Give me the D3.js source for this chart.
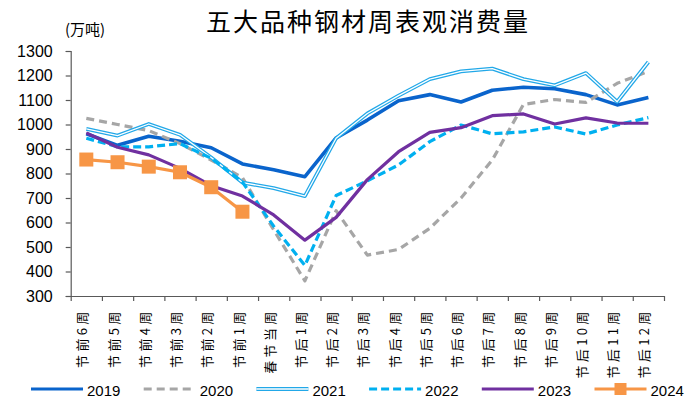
<!DOCTYPE html>
<html>
<head>
<meta charset="utf-8">
<script src="https://cdn.jsdelivr.net/npm/d3@7"></script>
<style>
  html, body { margin: 0; padding: 0; background: #fff; }
  svg { display: block; }
  .num { font-family: "Liberation Sans", Arial, sans-serif; }
  .cjk { font-family: "Noto Sans CJK SC", "Liberation Sans", sans-serif; }
</style>
</head>
<body>
<svg id="chart" width="699" height="398"></svg>
<script>
// Weeks around the Spring Festival
const categories = ["节前6周","节前5周","节前4周","节前3周","节前2周","节前1周","春节当周",
  "节后1周","节后2周","节后3周","节后4周","节后5周","节后6周","节后7周","节后8周",
  "节后9周","节后10周","节后11周","节后12周"];

// Weekly apparent consumption of the five major steel products (10k tonnes)
const v2019 = [962, 915, 952, 932, 905, 839, 815, 787, 945, 1018, 1097, 1122, 1092, 1140, 1152, 1146, 1122, 1080, 1110];
const v2020 = [1025, 1000, 975, 922, 855, 783, 570, 362, 648, 467, 490, 576, 700, 855, 1082, 1102, 1090, 1168, 1217];
const v2021 = [982, 955, 1002, 958, 865, 763, 740, 708, 944, 1045, 1118, 1185, 1217, 1228, 1185, 1160, 1210, 1093, 1255];
const v2022 = [944, 909, 909, 922, 862, 765, 585, 425, 710, 770, 835, 930, 998, 962, 970, 990, 961, 998, 1028];
const v2023 = [966, 907, 876, 821, 750, 708, 631, 528, 621, 775, 889, 968, 987, 1036, 1043, 1002, 1027, 1006, 1005];
const v2024 = [857, 846, 828, 805, 744, 644];

const yTicks = [300, 400, 500, 600, 700, 800, 900, 1000, 1100, 1200, 1300];
const seriesNames = ["2019", "2020", "2021", "2022", "2023", "2024"];

const series = [
  { name: seriesNames[0], values: v2019, color: "#0A64CC", width: 3.6, dash: null },
  { name: seriesNames[1], values: v2020, color: "#A6A6A6", width: 3.2, dash: "8,5" },
  { name: seriesNames[2], values: v2021, color: "#22A8E8", width: 3.8, dash: null, double: true },
  { name: seriesNames[3], values: v2022, color: "#00B0F0", width: 3.2, dash: "8,4" },
  { name: seriesNames[4], values: v2023, color: "#7030A0", width: 3.2, dash: null },
  { name: seriesNames[5], values: v2024, color: "#F79646", width: 3.2, dash: null, marker: true }
];

const svg = d3.select("#chart");
const plotLeft = 70.7, plotRight = 664, plotTop = 51, plotBottom = 296;

const x = d3.scaleBand().domain(categories).range([plotLeft, plotRight]).padding(0);
const y = d3.scaleLinear().domain([300, 1300]).range([plotBottom, plotTop]);

// Title and unit
svg.append("text").attr("class", "cjk")
  .attr("x", 368).attr("y", 31)
  .attr("text-anchor", "middle")
  .attr("font-size", 25).attr("letter-spacing", "2px")
  .attr("fill", "#000")
  .text("五大品种钢材周表观消费量");

svg.append("text").attr("class", "cjk")
  .attr("x", 65).attr("y", 35)
  .attr("font-size", 15).attr("fill", "#000")
  .text("(万吨)");

// Y axis
const yAxis = svg.append("g")
  .attr("transform", `translate(${plotLeft},0)`)
  .call(d3.axisLeft(y).tickValues(yTicks).tickSize(5).tickPadding(13).tickFormat(d3.format("d")));
yAxis.selectAll("path, line").attr("stroke", "#595959").attr("stroke-width", 1.2);
yAxis.selectAll("text").attr("class", "num").attr("font-size", 16).attr("fill", "#000");

// X axis: boundary ticks between weeks
const xEdge = d3.scaleLinear().domain([0, categories.length]).range([plotLeft, plotRight]);
const xTicks = svg.append("g")
  .attr("transform", `translate(0,${plotBottom})`)
  .call(d3.axisBottom(xEdge).tickValues(d3.range(categories.length + 1)).tickSize(5).tickFormat(""));
xTicks.selectAll("path, line").attr("stroke", "#595959").attr("stroke-width", 1.2);
xTicks.select(".domain").attr("d", `M${plotLeft},0.5H${plotRight}`);

// X axis labels, rotated to read upward
const xLabels = svg.append("g")
  .attr("transform", `translate(0,${plotBottom})`)
  .call(d3.axisBottom(x).tickSize(0));
xLabels.select(".domain").remove();
xLabels.selectAll("text")
  .attr("class", "cjk")
  .attr("font-size", 13)
  .attr("letter-spacing", "3.3px")
  .attr("fill", "#000")
  .attr("transform", "rotate(-90)")
  .attr("text-anchor", "end")
  .attr("x", -12.5)
  .attr("y", -3.5)
  .attr("dy", "0.35em");

// Lines
const line = d3.line()
  .x((d, i) => x(categories[i]) + x.bandwidth() / 2)
  .y(d => y(d));

const plot = svg.append("g");
series.forEach(s => {
  plot.append("path")
    .datum(s.values)
    .attr("fill", "none")
    .attr("stroke", s.color)
    .attr("stroke-width", s.width)
    .attr("stroke-dasharray", s.dash)
    .attr("stroke-linejoin", "round")
    .attr("d", line);
  if (s.double) {
    plot.append("path")
      .datum(s.values)
      .attr("fill", "none")
      .attr("stroke", "#fff")
      .attr("stroke-width", 1.3)
      .attr("stroke-linejoin", "round")
      .attr("d", line);
  }
  if (s.marker) {
    plot.selectAll(null)
      .data(s.values)
      .enter().append("rect")
      .attr("x", (d, i) => x(categories[i]) + x.bandwidth() / 2 - 7)
      .attr("y", d => y(d) - 7)
      .attr("width", 14).attr("height", 14)
      .attr("fill", s.color);
  }
});

// Legend
const legend = svg.append("g").attr("transform", "translate(31,389)");
const step = 112.7;
series.forEach((s, i) => {
  const g = legend.append("g").attr("transform", `translate(${i * step},0)`);
  g.append("line")
    .attr("x1", 0).attr("x2", 52).attr("y1", 0).attr("y2", 0)
    .attr("stroke", s.color).attr("stroke-width", s.double ? 3.8 : 3.2)
    .attr("stroke-dasharray", s.dash);
  if (s.double) {
    g.append("line").attr("x1", 0).attr("x2", 52).attr("y1", 0).attr("y2", 0)
      .attr("stroke", "#fff").attr("stroke-width", 1.3);
  }
  if (s.marker) {
    g.append("rect").attr("x", 20).attr("y", -6).attr("width", 12).attr("height", 12)
      .attr("fill", s.color);
  }
  g.append("text").attr("class", "num")
    .attr("x", 56).attr("y", 6.5)
    .attr("font-size", 15).attr("fill", "#000")
    .text(s.name);
});
</script>
</body>
</html>
